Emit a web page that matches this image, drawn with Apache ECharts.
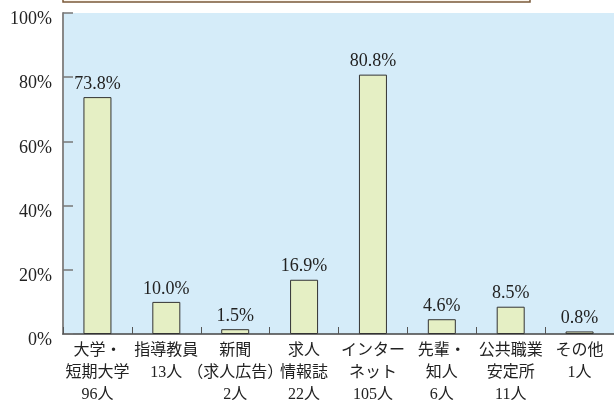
<!DOCTYPE html>
<html><head><meta charset="utf-8">
<script src="https://cdn.jsdelivr.net/npm/echarts@6/dist/echarts.min.js"></script>
<style>html,body{margin:0;padding:0;background:#fff}#c{width:614px;height:405px}</style>
</head><body><div id="c"></div>
<script>
const categories = ['大学・\n短期大学\n96人','指導教員\n13人','新聞\n（求人広告）\n2人','求人\n情報誌\n22人','インター\nネット\n105人','先輩・\n知人\n6人','公共職業\n安定所\n11人','その他\n1人'];
const values = [73.8, 10.0, 1.5, 16.9, 80.8, 4.6, 8.5, 0.8];
const yTicks = [0, 20, 40, 60, 80, 100];
const FONT = '"Liberation Serif", "Noto Sans CJK JP", serif';
const chart = echarts.init(document.getElementById('c'), null, {renderer:'canvas'});
chart.setOption({
  animation:false,
  grid:{left:63,right:0,top:13,bottom:71,show:true,backgroundColor:'#d5ecf9',borderWidth:0,
    containLabel:false,outerBoundsMode:'none'},
  graphic:[{type:'rect',shape:{x:63,y:-12,width:467,height:14},style:{fill:'#fdf7ef',stroke:'#7a5a3a',lineWidth:1.5},z:10}],
  xAxis:{type:'category',data:categories,
    axisLine:{lineStyle:{color:'#444',width:1.5}},
    axisTick:{show:true,inside:true,length:7,lineStyle:{color:'#555'}},
    axisLabel:{interval:0,color:'#222',fontFamily:FONT,fontSize:16,lineHeight:22,margin:6}},
  yAxis:{type:'value',min:0,max:100,interval:20,
    axisLine:{show:true,lineStyle:{color:'#888',width:2}},
    axisTick:{show:true,inside:true,length:10,lineStyle:{color:'#777',width:1.5}},
    splitLine:{show:false},
    axisLabel:{color:'#222',fontFamily:FONT,fontSize:18,margin:11,
      formatter:v=> yTicks.includes(v)? '{a|'+v+'%}' : '',
      rich:{a:{fontFamily:FONT,fontSize:18,color:'#222',padding:[13,0,0,0]}}}},
  series:[{type:'bar',data:values,barWidth:28,
    itemStyle:{color:'#e5efc4',borderColor:'#333',borderWidth:1},
    label:{show:true,position:'top',distance:4,color:'#222',fontFamily:FONT,fontSize:18,
      formatter:p=>p.value.toFixed(1)+'%'}}]
});
</script></body></html>
